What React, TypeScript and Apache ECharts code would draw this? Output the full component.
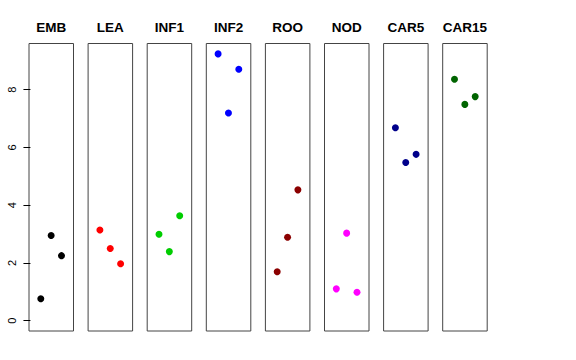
import React, { useEffect, useRef } from "react";
import * as echarts from "echarts";

const panels = ["EMB", "LEA", "INF1", "INF2", "ROO", "NOD", "CAR5", "CAR15"];
const colors = ["#000000", "#FF0000", "#00CD00", "#0000FF", "#8B0000", "#FF00FF", "#00008B", "#006400"];
const positions = [1, 2, 3];
const valEMB = [0.76, 2.95, 2.25];
const valLEA = [3.14, 2.5, 1.97];
const valINF1 = [2.99, 2.39, 3.63];
const valINF2 = [9.24, 7.19, 8.71];
const valROO = [1.69, 2.89, 4.53];
const valNOD = [1.1, 3.03, 0.98];
const valCAR5 = [6.68, 5.48, 5.76];
const valCAR15 = [8.36, 7.49, 7.76];
const allValues = [valEMB, valLEA, valINF1, valINF2, valROO, valNOD, valCAR5, valCAR15];
const yTicks = [0, 2, 4, 6, 8];

export default function App() {
  const ref = useRef<HTMLDivElement>(null);
  useEffect(() => {
    if (!ref.current) return;
    const chart = echarts.init(ref.current, undefined, { renderer: "svg" });
    const grids: any[] = [];
    const xAxes: any[] = [];
    const yAxes: any[] = [];
    const series: any[] = [];
    panels.forEach((name, i) => {
      grids.push({
        left: 29 + i * 59.1,
        width: 44.5,
        top: 43.5,
        height: 287.5,
        show: true,
        borderColor: "#444",
        borderWidth: 1,
        backgroundColor: "transparent",
      });
      xAxes.push({
        gridIndex: i,
        type: "value",
        min: -0.14,
        max: 4.16,
        position: "top",
        name,
        nameLocation: "middle",
        nameGap: 9,
        nameTextStyle: { fontFamily: "Liberation Sans", fontWeight: "bold", fontSize: 13.5, color: "#000" },
        axisLine: { show: false },
        axisTick: { show: false },
        axisLabel: { show: false },
        splitLine: { show: false },
      });
      yAxes.push({
        gridIndex: i,
        type: "value",
        min: -0.36,
        max: 9.6,
        axisLine: { show: false },
        axisTick: {
          show: i === 0,
          length: 7,
          customValues: yTicks,
          lineStyle: { color: "#000", width: 1 },
        },
        axisLabel: {
          show: i === 0,
          customValues: yTicks,
          rotate: 90,
          margin: 12,
          fontFamily: "Liberation Sans",
          fontSize: 11,
          color: "#000",
        },
        splitLine: { show: false },
      });
      series.push({
        type: "scatter",
        xAxisIndex: i,
        yAxisIndex: i,
        symbol: "circle",
        symbolSize: 7,
        itemStyle: { color: colors[i], opacity: 1 },
        data: positions.map((p, k) => [p, allValues[i][k]]),
      });
    });
    chart.setOption({
      animation: false,
      backgroundColor: "#fff",
      grid: grids,
      xAxis: xAxes,
      yAxis: yAxes,
      series,
    });
    return () => chart.dispose();
  }, []);
  return <div ref={ref} style={{ width: 576, height: 360, position: "absolute", left: 0, top: 0 }} />;
}
